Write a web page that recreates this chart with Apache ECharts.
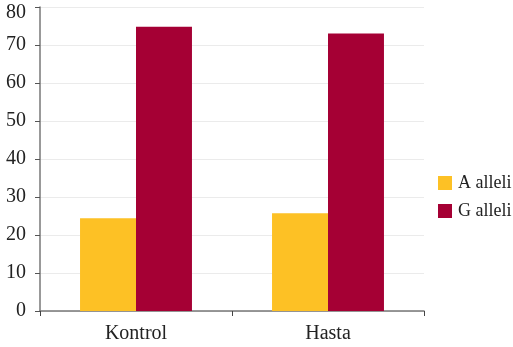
<!DOCTYPE html>
<html><head><meta charset="utf-8">
<script src="https://cdn.jsdelivr.net/npm/echarts@6/dist/echarts.min.js"></script>
<style>html,body{margin:0;padding:0;background:#fff}#c{width:513px;height:347px}</style>
</head><body><div id="c"></div>
<script>
var categories = ["Kontrol", "Hasta"];
var seriesNames = ["A alleli", "G alleli"];
var aValues = [24.4, 25.7];
var gValues = [74.8, 73.0];
var yTicks = [0, 10, 20, 30, 40, 50, 60, 70, 80];

var font = "Liberation Serif";
var chart = echarts.init(document.getElementById('c'), null, {renderer: 'canvas'});
var yMax = yTicks[yTicks.length - 1];
chart.setOption({
  animation: false,
  backgroundColor: '#fff',
  textStyle: {fontFamily: font},
  grid: {left: 40, right: 89, top: 7, bottom: 36, containLabel: false},
  legend: {
    orient: 'vertical', left: 438, top: 174, padding: 0,
    icon: 'rect',
    itemWidth: 14, itemHeight: 14, itemGap: 10,
    textStyle: {fontFamily: font, fontSize: 18, color: '#222', padding: [0, 0, 0, 1]},
    data: seriesNames
  },
  xAxis: {
    type: 'category', data: categories,
    axisLine: {lineStyle: {color: '#777', width: 1.5}},
    axisTick: {show: true, length: 5, lineStyle: {color: '#444'}},
    axisLabel: {fontFamily: font, fontSize: 20, color: '#222', margin: 13}
  },
  yAxis: {
    type: 'value', min: yTicks[0], max: yMax, interval: 10,
    axisLine: {show: true, lineStyle: {color: '#777', width: 1.5}},
    axisTick: {show: true, length: 5, lineStyle: {color: '#555'}},
    axisLabel: {
      fontFamily: font, fontSize: 20, color: '#222', margin: 14,
      formatter: function (v) { return v === yMax ? '{t|' + v + '}' : String(v); },
      rich: {t: {fontFamily: font, fontSize: 20, color: '#222', padding: [12, 0, 0, 0]}}
    },
    splitLine: {lineStyle: {color: '#ebebeb'}}
  },
  series: [
    {name: seriesNames[0], type: 'bar', data: aValues, barGap: '0%', barCategoryGap: '41.7%', itemStyle: {color: '#FDC125'}},
    {name: seriesNames[1], type: 'bar', data: gValues, itemStyle: {color: '#A50034'}}
  ]
});
</script></body></html>
